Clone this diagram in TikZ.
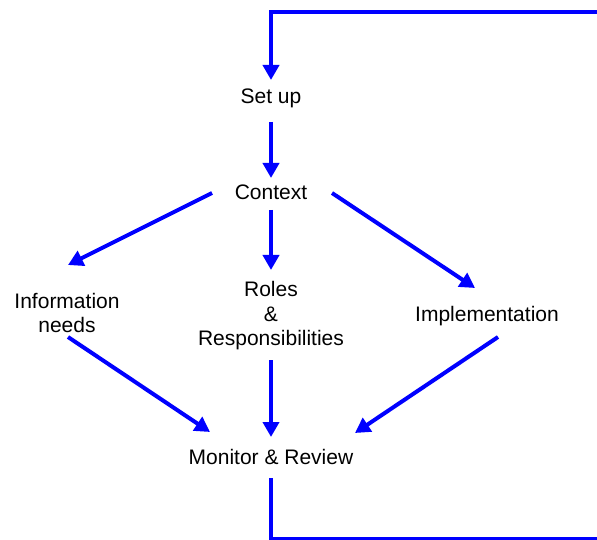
\documentclass[tikz,border=0pt]{standalone}
\usepackage{fontspec}
\setmainfont{Liberation Sans}
\usetikzlibrary{arrows.meta}
\begin{document}
\begin{tikzpicture}[x=1pt,y=1pt,
  lbl/.style={inner sep=0pt, align=center, font=\fontsize{21}{24.5}\selectfont},
  flow/.style={draw=blue, line width=4pt},
  arr/.style={flow, -{Triangle[width=16pt,length=15pt]}}]
\useasboundingbox (0,0) rectangle (597,539);

% labels
\node[lbl] (setup) at (271,441) {Set up};
\node[lbl] (ctx)   at (271,347) {Context};
\node[lbl] (info)  at (67,226)  {Information\\needs};
\node[lbl] (roles) at (271,223) {Roles\\\&\\Responsibilities};
\node[lbl] (impl)  at (487,223) {Implementation};
\node[lbl] (mon)   at (271,82)  {Monitor \& Review};

% loop-back ends at the page border
\coordinate (topR) at (597,527);
\coordinate (botR) at (597,0);

% feedback into the set-up step
\draw[arr] (topR) -- ([shift={(0,86)}]setup.center) -- ([shift={(0,18)}]setup.center);
\draw[arr] ([shift={(0,-24)}]setup.center) -- ([shift={(0,14)}]ctx.center);

% context branches
\draw[arr] ([shift={(-59,-1)}]ctx.center) -- ([shift={(1,48)}]info.center);
\draw[arr] ([shift={(0,-18)}]ctx.center) -- ([shift={(0,46)}]roles.center);
\draw[arr] ([shift={(61,-1)}]ctx.center) -- ([shift={(-12,28)}]impl.center);

% into monitor & review
\draw[arr] ([shift={(1,-24)}]info.center) -- ([shift={(-61,25)}]mon.center);
\draw[arr] ([shift={(0,-44)}]roles.center) -- ([shift={(0,20)}]mon.center);
\draw[arr] ([shift={(11,-21)}]impl.center) -- ([shift={(84,24)}]mon.center);

% loop-back out of monitor & review
\draw[flow] ([shift={(0,-21)}]mon.center) -- ([shift={(0,-82)}]mon.center) -- (botR);
\end{tikzpicture}
\end{document}
